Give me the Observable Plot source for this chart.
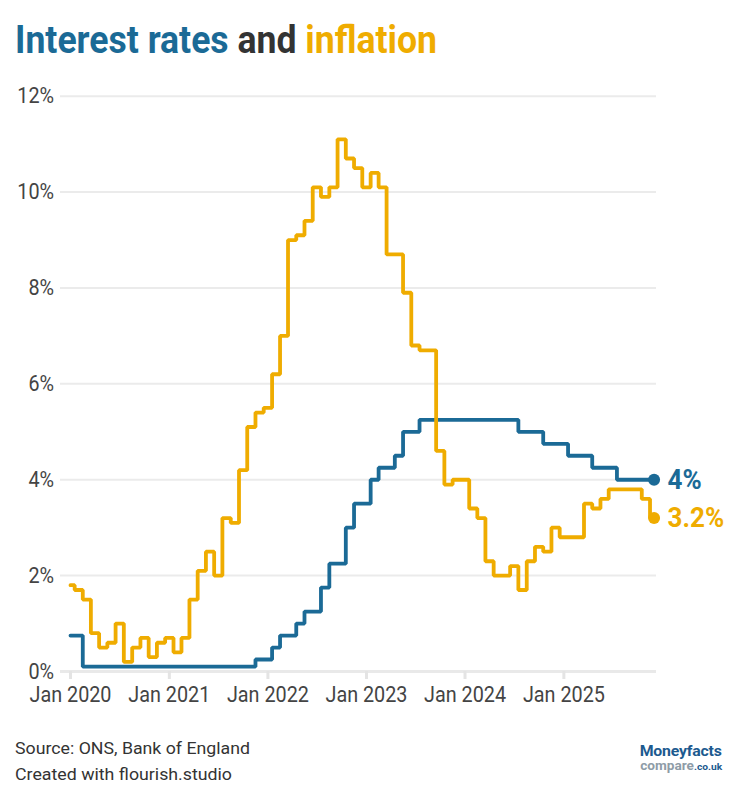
<!DOCTYPE html>
<html>
<head>
<meta charset="utf-8">
<script src="https://cdn.jsdelivr.net/npm/d3@7"></script>
<script src="https://cdn.jsdelivr.net/npm/@observablehq/plot@0.6"></script>
<style>
  html, body { margin: 0; padding: 0; background: #fff; }
  body { width: 738px; height: 800px; position: relative; overflow: hidden; font-family: Roboto, sans-serif; }
  .abs { position: absolute; white-space: nowrap; line-height: 1; transform-origin: left center; }
  #title { left: 15px; top: 20.5px; font-size: 39px; font-weight: 700; }
  #chart { position: absolute; left: 0; top: 70px; }
  .foot { left: 15px; font-size: 17px; color: #333; }
  #logo1 { font-size: 15px; font-weight: 700; color: #1c5a8f; transform-origin: right center; letter-spacing: -0.2px; line-height: 13px; }
  #logo2 { font-size: 12px; font-weight: 700; color: #8e9ca7; transform-origin: right center; line-height: 11px; }
  #logo2 span { color: #1c5a8f; font-size: 9px; }
  svg g[aria-label="x-axis tick"] path { stroke: #e4e4e4 !important; stroke-width: 3px !important; }
</style>
</head>
<body>
<div id="title" class="abs"><span style="color:#1b6a96">Interest rates</span> <span style="color:#333">and</span> <span style="color:#efac00">inflation</span></div>
<div id="chart"></div>
<div id="src1" class="abs foot" style="top:740px">Source: ONS, Bank of England</div>
<div id="src2" class="abs foot" style="top:766px">Created with flourish.studio</div>
<div id="logo1" class="abs" style="top:745px; right:16px">Moneyfacts</div>
<div id="logo2" class="abs" style="top:761px; right:16px">compare<span>.co.uk</span></div>
<script>
// ---- data (monthly, Jan 2020 – Dec 2025) ----
const startMonth = "2020-01-01";
const inflation = [
  1.8, 1.7, 1.5, 0.8, 0.5, 0.6, 1.0, 0.2, 0.5, 0.7, 0.3, 0.6,
  0.7, 0.4, 0.7, 1.5, 2.1, 2.5, 2.0, 3.2, 3.1, 4.2, 5.1, 5.4,
  5.5, 6.2, 7.0, 9.0, 9.1, 9.4, 10.1, 9.9, 10.1, 11.1, 10.7, 10.5,
  10.1, 10.4, 10.1, 8.7, 8.7, 7.9, 6.8, 6.7, 6.7, 4.6, 3.9, 4.0,
  4.0, 3.4, 3.2, 2.3, 2.0, 2.0, 2.2, 1.7, 2.3, 2.6, 2.5, 3.0,
  2.8, 2.8, 2.8, 3.5, 3.4, 3.6, 3.8, 3.8, 3.8, 3.8, 3.6, 3.2
];
const bankRate = [
  0.75, 0.75, 0.1, 0.1, 0.1, 0.1, 0.1, 0.1, 0.1, 0.1, 0.1, 0.1,
  0.1, 0.1, 0.1, 0.1, 0.1, 0.1, 0.1, 0.1, 0.1, 0.1, 0.1, 0.25,
  0.25, 0.5, 0.75, 0.75, 1.0, 1.25, 1.25, 1.75, 2.25, 2.25, 3.0, 3.5,
  3.5, 4.0, 4.25, 4.25, 4.5, 5.0, 5.0, 5.25, 5.25, 5.25, 5.25, 5.25,
  5.25, 5.25, 5.25, 5.25, 5.25, 5.25, 5.25, 5.0, 5.0, 5.0, 4.75, 4.75,
  4.75, 4.5, 4.5, 4.5, 4.25, 4.25, 4.25, 4.0, 4.0, 4.0, 4.0, 4.0
];
const yTicks = [0, 2, 4, 6, 8, 10, 12];
const xTickYears = [2020, 2021, 2022, 2023, 2024, 2025];
const endLabels = ["4%", "3.2%"];
const seriesNames = ["Bank Rate", "CPI inflation"];
const colors = ["#1b6a96", "#efac00"];

// ---- build tables ----
const start = new Date(startMonth);
const months = inflation.map((_, i) => d3.utcMonth.offset(start, i));
const rateData = months.map((date, i) => ({date, value: bankRate[i]}));
const inflData = months.map((date, i) => ({date, value: inflation[i]}));
const lastPoints = [
  {date: months[months.length - 1], value: bankRate[bankRate.length - 1], label: endLabels[0], color: colors[0]},
  {date: months[months.length - 1], value: inflation[inflation.length - 1], label: endLabels[1], color: colors[1]}
];
const xTicks = xTickYears.map(y => new Date(Date.UTC(y, 0, 1)));

const chart = Plot.plot({
  width: 738,
  height: 650,
  marginTop: 25.7,
  marginBottom: 49,
  marginLeft: 60,
  marginRight: 82,
  style: {fontFamily: "Roboto, sans-serif", fontSize: "22px", color: "#444", background: "#fff", overflow: "visible"},
  x: {type: "utc", domain: [new Date("2019-11-25"), new Date("2025-12-10")]},
  y: {domain: [0, 12]},
  marks: [
    Plot.ruleY(yTicks.filter(d => d > 0), {stroke: "#ebebeb", strokeWidth: 2}),
    Plot.ruleY([0], {stroke: "#e9e9e9", strokeWidth: 3}),
    Plot.axisY({ticks: yTicks, tickSize: 0, tickPadding: 6.5, tickFormat: d => d + "%", label: null, fill: "#444"}),
    Plot.axisX({ticks: xTicks, tickSize: 8, tickPadding: 6.5, tickFormat: d3.utcFormat("%b %Y"), label: null, stroke: "#e4e4e4", fill: "#444"}),
    Plot.line(rateData, {x: "date", y: "value", stroke: colors[0], strokeWidth: 3.8, curve: "step", strokeLinejoin: "miter"}),
    Plot.line(inflData, {x: "date", y: "value", stroke: colors[1], strokeWidth: 3.8, curve: "step", strokeLinejoin: "miter"}),
    Plot.dot(lastPoints, {x: "date", y: "value", r: 6, fill: "color", stroke: "none"}),
    Plot.text(lastPoints, {x: "date", y: "value", text: "label", fill: "color", dx: 13.5, textAnchor: "start", fontWeight: "bold", fontSize: 28, className: "endlabel"})
  ]
});
document.getElementById("chart").appendChild(chart);

// emulate a condensed face by narrowing text horizontally around its anchor
function narrow(el, s) {
  if (el.dataset.narrowed) return;
  el.dataset.narrowed = "1";
  const t = el.getAttribute("transform") || "";
  const x = parseFloat(el.getAttribute("x")) || 0;
  el.setAttribute("transform", `${t} translate(${x},0) scale(${s},1) translate(${-x},0)`.trim());
}
chart.querySelectorAll("g[aria-label='y-axis tick label'] text, g[aria-label='x-axis tick label'] text").forEach(el => narrow(el, 0.9));
chart.querySelectorAll(".endlabel text, text.endlabel").forEach(el => narrow(el, 0.93));

function fit(id, w) {
  const el = document.getElementById(id);
  const cw = el.getBoundingClientRect().width;
  el.style.transform = `scaleX(${w / cw})`;
}
fit("title", 422);
fit("src1", 235);
fit("src2", 217);
fit("logo1", 82);
fit("logo2", 82);
</script>
</body>
</html>
